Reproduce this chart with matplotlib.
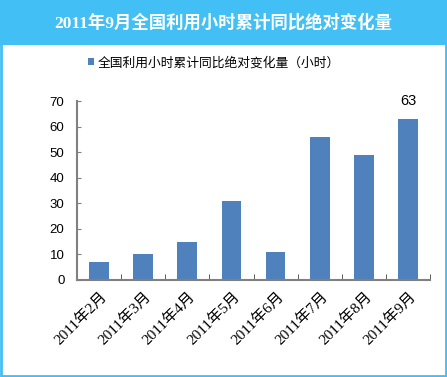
import matplotlib
matplotlib.use("Agg")
from matplotlib import pyplot as plt
from matplotlib.patches import Rectangle
from matplotlib.transforms import ScaledTranslation

plt.rcParams['font.family'] = ['Liberation Sans', 'Noto Sans CJK SC']

months = ['2011年2月', '2011年3月', '2011年4月', '2011年5月',
          '2011年6月', '2011年7月', '2011年8月', '2011年9月']
values = [7, 10, 15, 31, 11, 56, 49, 63]
title = '2011年9月全国利用小时累计同比绝对变化量'
series_name = '全国利用小时累计同比绝对变化量（小时）'

band = '#42BFF4'
bar_color = '#4F81BD'

fig = plt.figure(figsize=(4.47, 3.77), dpi=100)
fig.patch.set_facecolor('white')

# title band and frame
fig.patches.append(Rectangle((0, 1 - 45 / 377), 1, 45 / 377, transform=fig.transFigure,
                             facecolor=band, edgecolor='none', zorder=0))
fig.patches.append(Rectangle((0.002, 0.003), 0.995, 0.995, transform=fig.transFigure,
                             facecolor='none', edgecolor=band, linewidth=2, zorder=5))
fig.text(0.5, 1 - 23 / 377, title, color='white', fontsize=12.5, fontweight='bold',
         ha='center', va='center', family=['Liberation Serif', 'Noto Sans CJK SC'])

ax = fig.add_axes([77 / 447, 1 - 280 / 377, (430 - 77) / 447, (280 - 101) / 377])
x = list(range(len(values)))
bars = ax.bar(x, values, width=0.45, color=bar_color, label=series_name, zorder=2)

ax.set_xlim(-0.5, len(values) - 0.5)
ax.set_ylim(0, 70)
ax.set_yticks(range(0, 71, 10))
ax.tick_params(axis='y', direction='in', length=3, color='#808080', labelsize=9.5, pad=9)

ax.set_xticks(x)
ax.set_xticklabels(months, rotation=45, ha='right', va='center', rotation_mode='anchor',
                   fontsize=11, family=['Liberation Serif', 'Noto Sans CJK SC'])
ax.tick_params(axis='x', length=0, pad=10)
shift = ScaledTranslation(6 / 100, 0, fig.dpi_scale_trans)
for lab in ax.get_xticklabels():
    lab.set_transform(lab.get_transform() + shift)
ax.set_xticks([i + 0.5 for i in x], minor=True)
ax.tick_params(axis='x', which='minor', direction='in', length=4, color='#404040')

for side in ['top', 'right']:
    ax.spines[side].set_visible(False)
ax.spines['left'].set_color('#808080')
ax.spines['left'].set_linewidth(1.5)
ax.spines['bottom'].set_color('#808080')
ax.spines['bottom'].set_linewidth(1.5)

ax.annotate(str(values[-1]), (x[-1], values[-1]), xytext=(0, 8), textcoords='offset points',
            ha='center', va='bottom', fontsize=10.5)

fig.legend(handles=[bars], labels=[series_name], loc='center', frameon=False,
           bbox_to_anchor=(214 / 447, 1 - 63 / 377), fontsize=9.2,
           handlelength=0.5, handleheight=0.5, handletextpad=0.3)

fig.savefig('out.png', dpi=100)
